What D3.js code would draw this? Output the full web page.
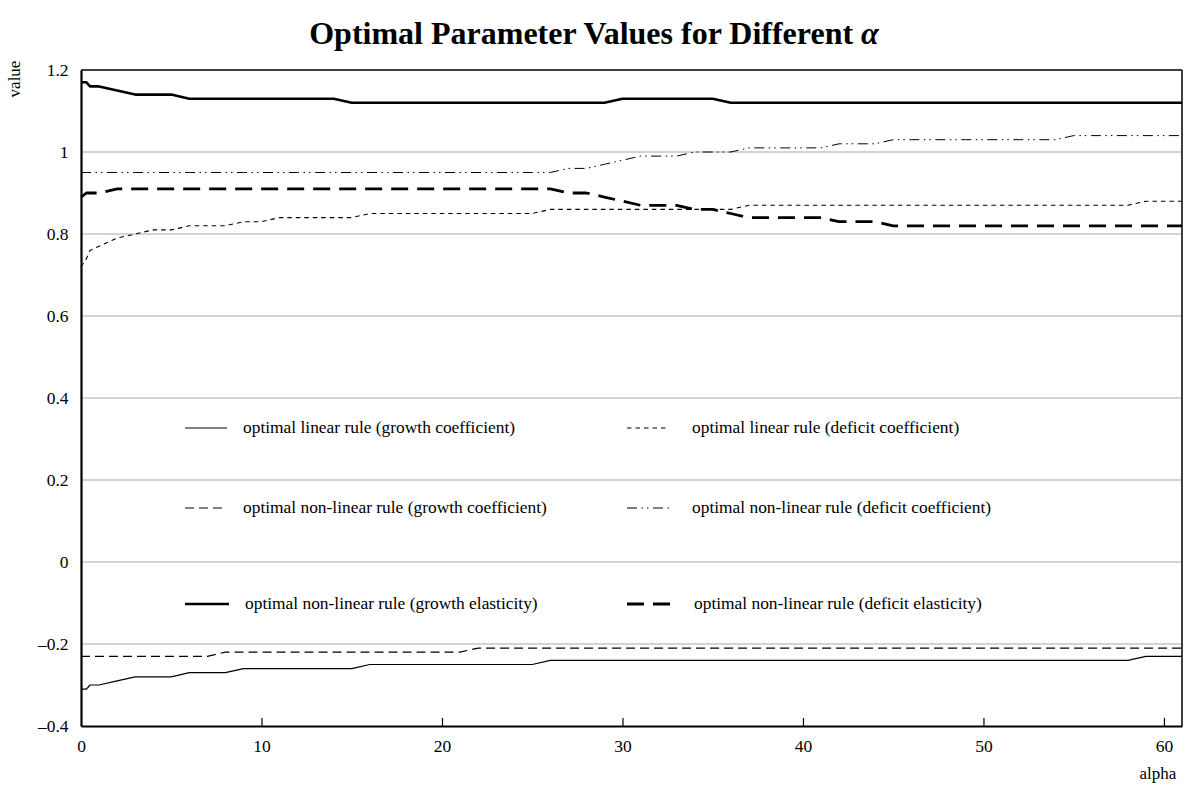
<!DOCTYPE html>
<html>
<head>
<meta charset="utf-8">
<script src="https://cdn.jsdelivr.net/npm/d3@7"></script>
<style>
  body { margin: 0; background: #fff; }
  svg { display: block; }
  text { font-family: "Liberation Serif", "Times New Roman", serif; fill: #000; }
</style>
</head>
<body>
<svg id="chart" width="1185" height="787"></svg>
<script>
// alpha grid
const alpha = [0, 0.3, 0.5, 1, 2, 3, 4, 5, 6, 7, 8, 9, 10, 11, 12, 13, 14, 15, 16, 17, 18, 19, 20,
  21, 22, 23, 24, 25, 26, 27, 28, 29, 30, 31, 32, 33, 34, 35, 36, 37, 38, 39, 40, 41, 42, 43, 44,
  45, 46, 47, 48, 49, 50, 51, 52, 53, 54, 55, 56, 57, 58, 59, 60, 61];

// optimal linear rule (growth coefficient)
const linGrowth = [-0.31, -0.31, -0.30, -0.30, -0.29, -0.28, -0.28, -0.28, -0.27, -0.27, -0.27,
  -0.26, -0.26, -0.26, -0.26, -0.26, -0.26, -0.26,
  -0.25, -0.25, -0.25, -0.25, -0.25, -0.25, -0.25, -0.25, -0.25, -0.25,
  -0.24, -0.24, -0.24, -0.24, -0.24, -0.24, -0.24, -0.24, -0.24, -0.24, -0.24, -0.24, -0.24,
  -0.24, -0.24, -0.24, -0.24, -0.24, -0.24, -0.24, -0.24, -0.24, -0.24, -0.24, -0.24, -0.24,
  -0.24, -0.24, -0.24, -0.24, -0.24, -0.24, -0.24,
  -0.23, -0.23, -0.23];

// optimal linear rule (deficit coefficient)
const linDeficit = [0.72, 0.74, 0.76, 0.77, 0.79, 0.80, 0.81, 0.81, 0.82, 0.82, 0.82, 0.83, 0.83,
  0.84, 0.84, 0.84, 0.84, 0.84,
  0.85, 0.85, 0.85, 0.85, 0.85, 0.85, 0.85, 0.85, 0.85, 0.85,
  0.86, 0.86, 0.86, 0.86, 0.86, 0.86, 0.86, 0.86, 0.86, 0.86, 0.86,
  0.87, 0.87, 0.87, 0.87, 0.87, 0.87, 0.87, 0.87, 0.87, 0.87, 0.87, 0.87, 0.87, 0.87, 0.87,
  0.87, 0.87, 0.87, 0.87, 0.87, 0.87, 0.87,
  0.88, 0.88, 0.88];

// optimal non-linear rule (growth coefficient)
const nlGrowth = [-0.23, -0.23, -0.23, -0.23, -0.23, -0.23, -0.23, -0.23, -0.23, -0.23,
  -0.22, -0.22, -0.22, -0.22, -0.22, -0.22, -0.22, -0.22, -0.22, -0.22, -0.22, -0.22, -0.22, -0.22,
  -0.21, -0.21, -0.21, -0.21, -0.21, -0.21, -0.21, -0.21, -0.21, -0.21, -0.21, -0.21, -0.21, -0.21,
  -0.21, -0.21, -0.21, -0.21, -0.21, -0.21, -0.21, -0.21, -0.21, -0.21, -0.21, -0.21, -0.21, -0.21,
  -0.21, -0.21, -0.21, -0.21, -0.21, -0.21, -0.21, -0.21, -0.21, -0.21, -0.21, -0.21];

// optimal non-linear rule (deficit coefficient)
const nlDeficit = [0.95, 0.95, 0.95, 0.95, 0.95, 0.95, 0.95, 0.95, 0.95, 0.95, 0.95, 0.95, 0.95,
  0.95, 0.95, 0.95, 0.95, 0.95, 0.95, 0.95, 0.95, 0.95, 0.95, 0.95, 0.95, 0.95, 0.95, 0.95, 0.95,
  0.96, 0.96, 0.97, 0.98, 0.99, 0.99, 0.99, 1.00, 1.00, 1.00,
  1.01, 1.01, 1.01, 1.01, 1.01,
  1.02, 1.02, 1.02,
  1.03, 1.03, 1.03, 1.03, 1.03, 1.03, 1.03, 1.03, 1.03, 1.03,
  1.04, 1.04, 1.04, 1.04, 1.04, 1.04, 1.04];

// optimal non-linear rule (growth elasticity)
const nlGrowthElast = [1.17, 1.17, 1.16, 1.16, 1.15, 1.14, 1.14, 1.14,
  1.13, 1.13, 1.13, 1.13, 1.13, 1.13, 1.13, 1.13, 1.13,
  1.12, 1.12, 1.12, 1.12, 1.12, 1.12, 1.12, 1.12, 1.12, 1.12, 1.12, 1.12, 1.12, 1.12, 1.12,
  1.13, 1.13, 1.13, 1.13, 1.13, 1.13,
  1.12, 1.12, 1.12, 1.12, 1.12, 1.12, 1.12, 1.12, 1.12, 1.12, 1.12, 1.12, 1.12, 1.12, 1.12,
  1.12, 1.12, 1.12, 1.12, 1.12, 1.12, 1.12, 1.12, 1.12, 1.12, 1.12];

// optimal non-linear rule (deficit elasticity)
const nlDeficitElast = [0.89, 0.90, 0.90, 0.90,
  0.91, 0.91, 0.91, 0.91, 0.91, 0.91, 0.91, 0.91, 0.91, 0.91, 0.91, 0.91, 0.91, 0.91, 0.91,
  0.91, 0.91, 0.91, 0.91, 0.91, 0.91, 0.91, 0.91, 0.91, 0.91,
  0.90, 0.90, 0.89, 0.88, 0.87, 0.87, 0.87, 0.86, 0.86, 0.85,
  0.84, 0.84, 0.84, 0.84, 0.84,
  0.83, 0.83, 0.83,
  0.82, 0.82, 0.82, 0.82, 0.82, 0.82, 0.82, 0.82, 0.82, 0.82, 0.82, 0.82, 0.82, 0.82, 0.82, 0.82, 0.82];

const xTicks = [0, 10, 20, 30, 40, 50, 60];
const yTicks = [-0.4, -0.2, 0, 0.2, 0.4, 0.6, 0.8, 1, 1.2];
const gridTicks = [-0.2, 0, 0.2, 0.4, 0.6, 0.8, 1];

const titleText = "Optimal Parameter Values for Different ";
const titleSymbol = "\u03b1";
const xLabel = "alpha";
const yLabel = "value";

const seriesNames = [
  "optimal linear rule (growth coefficient)",
  "optimal linear rule (deficit coefficient)",
  "optimal non-linear rule (growth coefficient)",
  "optimal non-linear rule (deficit coefficient)",
  "optimal non-linear rule (growth elasticity)",
  "optimal non-linear rule (deficit elasticity)"
];
const seriesValues = [linGrowth, linDeficit, nlGrowth, nlDeficit, nlGrowthElast, nlDeficitElast];

// line styles per series
const styles = [
  { width: 1.2, dash: null },
  { width: 1.1, dash: "4.5,4" },
  { width: 1.2, dash: "9,5" },
  { width: 1.0, dash: "10,4.5,1.5,4,1.5,4.5" },
  { width: 2.6, dash: null },
  { width: 2.8, dash: "17,9" }
];

const svg = d3.select("#chart");
const plot = { left: 81, right: 1182, top: 70, bottom: 726 };

const x = d3.scaleLinear().domain([0, 61]).range([plot.left, plot.right]);
const y = d3.scaleLinear().domain([-0.4, 1.2]).range([plot.bottom, plot.top]);

// horizontal gridlines
svg.append("g").selectAll("line").data(gridTicks).join("line")
  .attr("x1", plot.left).attr("x2", plot.right)
  .attr("y1", d => y(d)).attr("y2", d => y(d))
  .attr("stroke", "#c4c4c4").attr("stroke-width", 1.3);

// frame on top and right
svg.append("line").attr("x1", plot.left).attr("x2", plot.right)
  .attr("y1", plot.top).attr("y2", plot.top).attr("stroke", "#000").attr("stroke-width", 1.5);
svg.append("line").attr("x1", plot.right).attr("x2", plot.right)
  .attr("y1", plot.top).attr("y2", plot.bottom).attr("stroke", "#000").attr("stroke-width", 1.5);

// series lines
const line = d3.line().x((d, i) => x(alpha[i])).y(d => y(d));
const linesG = svg.append("g").attr("fill", "none");
seriesValues.forEach((vals, k) => {
  const p = linesG.append("path").datum(vals)
    .attr("d", line)
    .attr("stroke", "#000")
    .attr("stroke-width", styles[k].width)
    .attr("stroke-linejoin", "round");
  if (styles[k].dash) p.attr("stroke-dasharray", styles[k].dash);
});

// x axis
const fmtY = d => (d < 0 ? "\u2013" : "") + String(+Math.abs(d).toFixed(1));
const xAxis = svg.append("g").attr("transform", `translate(0,${plot.bottom})`)
  .call(d3.axisBottom(x).tickValues(xTicks).tickSizeInner(-8).tickSizeOuter(0).tickPadding(14).tickFormat(d3.format("d")));
xAxis.select(".domain").attr("stroke", "#000").attr("stroke-width", 2.2);
xAxis.selectAll(".tick line").attr("stroke", "#000").attr("stroke-width", 1.2);
xAxis.selectAll(".tick").filter(d => d === 0).select("line").remove();
xAxis.selectAll("text").style("font-size", "17.5px").attr("fill", "#000")
  .attr("font-family", "Liberation Serif, Times New Roman, serif");

// y axis
const yAxis = svg.append("g").attr("transform", `translate(${plot.left},0)`)
  .call(d3.axisLeft(y).tickValues(yTicks).tickSize(0).tickPadding(12.5).tickFormat(fmtY));
yAxis.select(".domain").attr("stroke", "#000").attr("stroke-width", 2.2);
yAxis.selectAll("text").style("font-size", "17.5px").attr("fill", "#000")
  .attr("font-family", "Liberation Serif, Times New Roman, serif");

// axis titles
svg.append("text").attr("transform", "translate(20,79) rotate(-90)")
  .attr("text-anchor", "middle").style("font-size", "17px").text(yLabel);
svg.append("text").attr("x", 1158).attr("y", 779)
  .attr("text-anchor", "middle").style("font-size", "17px").text(xLabel);

// title
const title = svg.append("text").attr("x", 594).attr("y", 44)
  .attr("text-anchor", "middle").style("font-size", "32px").style("font-weight", "bold");
title.append("tspan").text(titleText);
title.append("tspan").style("font-style", "italic").text(titleSymbol);

// legend, two columns by three rows
const legendRows = [428, 508, 604];
const legendCols = [
  { x1: 185, x2: 227, tx: 243 },
  { x1: 627, x2: 669, tx: 692 }
];
const legend = svg.append("g");
seriesNames.forEach((name, k) => {
  const row = Math.floor(k / 2), col = k % 2;
  const c = legendCols[col], ly = legendRows[row];
  const seg = legend.append("line")
    .attr("x1", c.x1).attr("x2", c.x2 + (k >= 4 ? 2 : 0))
    .attr("y1", ly).attr("y2", ly)
    .attr("stroke", "#000").attr("stroke-width", styles[k].width);
  if (styles[k].dash) seg.attr("stroke-dasharray", styles[k].dash);
  legend.append("text").attr("x", c.tx + (k >= 4 ? 2 : 0)).attr("y", ly + 5)
    .style("font-size", "17.4px").text(name);
});
</script>
</body>
</html>
